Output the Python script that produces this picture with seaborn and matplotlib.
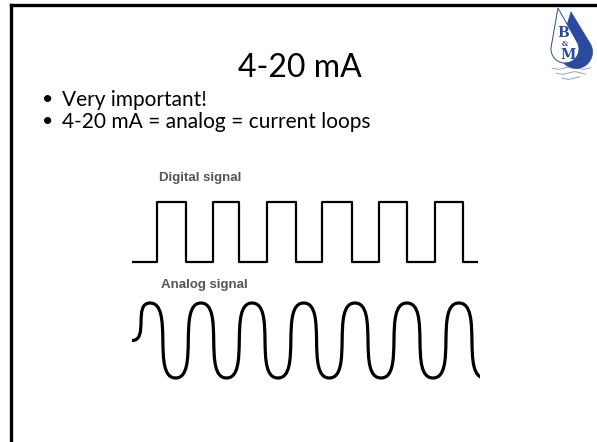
import numpy as np
import matplotlib
matplotlib.use("Agg")
import matplotlib.pyplot as plt
from matplotlib.path import Path
from matplotlib.patches import PathPatch, Polygon
import seaborn as sns

# slide text
title = "4-20 mA"
bullets = ["Very important!", "4-20 mA = analog = current loops"]
digital_label = "Digital signal"
analog_label = "Analog signal"

# digital signal: time of each edge and the level after it
digital_t = [0, 0.9, 1.95, 2.9, 3.85, 4.85, 5.9, 6.85, 7.9, 8.9, 9.9, 10.9, 11.9, 12.45]
digital_v = [0, 1, 0, 1, 0, 1, 0, 1, 0, 1, 0, 1, 0, 0]

# analog signal: start point, then peaks / troughs
analog_t = [0, 0.65, 1.57, 2.48, 3.4, 4.32, 5.25, 6.18, 7.1, 8.02, 8.96, 9.89, 10.83, 11.76, 12.7]
analog_v = [0, 1, -1, 1, -1, 1, -1, 1, -1, 1, -1, 1, -1, 1, -1]

W, H = 597, 442
BLUE = "#2a4a9e"

sns.set_theme(style="white")
plt.rcParams["font.family"] = ["Lato", "DejaVu Sans"]

fig = plt.figure(figsize=(W / 100, H / 100), dpi=100)


def px_rect(x0, y0, x1, y1):
    return [x0 / W, 1 - y1 / H, (x1 - x0) / W, (y1 - y0) / H]


bg = fig.add_axes([0, 0, 1, 1])
bg.set_xlim(0, W)
bg.set_ylim(H, 0)
bg.axis("off")

# slide frame
bg.plot([11, W], [5, 5], color="black", lw=2.4, solid_capstyle="projecting")
bg.plot([11, 11], [5, H], color="black", lw=2.4, solid_capstyle="projecting")

bg.text(300, 68, title, ha="center", va="center", fontsize=23, color="black")
for i, b in enumerate(bullets):
    y = 100 + i * 22
    bg.text(48, y, "\u2022", ha="center", va="center", fontsize=14, color="black")
    bg.text(62, y, b, ha="left", va="center", fontsize=15, color="black")


# logo
def drop(tip, center, r, **kw):
    tx, ty = tip
    cx, cy = center
    d = np.hypot(tx - cx, ty - cy)
    ang = np.arctan2(ty - cy, tx - cx)
    beta = np.arccos(r / d)
    th = np.linspace(ang + beta, ang + 2 * np.pi - beta, 80)
    pts = [(tx, ty)] + [(cx + r * np.cos(t), cy + r * np.sin(t)) for t in th]
    return Polygon(pts, closed=True, **kw)


bg.add_patch(drop((571, 12), (576, 52), 16.5, fc=BLUE, ec=BLUE, lw=0.5))
bg.add_patch(drop((558, 8), (565, 49), 14, fc="white", ec=BLUE, lw=0.7))
bg.text(563, 33, "B", ha="center", va="center", fontsize=10, fontweight="bold",
        family="DejaVu Serif", color=BLUE)
bg.text(565, 44, "&", ha="center", va="center", fontsize=5, fontweight="bold",
        family="DejaVu Serif", color=BLUE)
bg.text(568, 55, "M", ha="center", va="center", fontsize=10, fontweight="bold",
        family="DejaVu Serif", color=BLUE)
for yy, x0, x1 in [(68, 552, 591), (73, 556, 586), (78, 562, 580)]:
    xs = np.linspace(x0, x1, 30)
    bg.plot(xs, yy + 1.2 * np.sin((xs - x0) / 4), color=BLUE, lw=0.5, alpha=0.7)

# digital signal
ax_d = fig.add_axes(px_rect(132, 193, 478, 271))
sns.lineplot(x=digital_t, y=digital_v, drawstyle="steps-post", color="black",
             lw=1.6, ax=ax_d, estimator=None, sort=False)
ax_d.set_xlim(0, 12.45)
ax_d.set_ylim(-0.15, 1.15)
ax_d.axis("off")
bg.text(159, 178, digital_label, ha="left", va="center", fontsize=9.5,
        fontweight="bold", family="Liberation Sans", color="#555555")

# analog signal
ax_a = fig.add_axes(px_rect(132, 297.4, 480, 383.6))
k = 0.95
verts = [(analog_t[0], analog_v[0])]
codes = [Path.MOVETO]
for i in range(len(analog_t) - 1):
    x0, y0 = analog_t[i], analog_v[i]
    x1, y1 = analog_t[i + 1], analog_v[i + 1]
    dx = x1 - x0
    verts += [(x0 + k * dx, y0), (x1 - k * dx, y1), (x1, y1)]
    codes += [Path.CURVE4] * 3
ax_a.add_patch(PathPatch(Path(verts, codes), fc="none", ec="black", lw=2.3))
ax_a.set_xlim(0, 12.52)
ax_a.set_ylim(-1.15, 1.15)
ax_a.axis("off")
bg.text(161, 285, analog_label, ha="left", va="center", fontsize=9.5,
        fontweight="bold", family="Liberation Sans", color="#555555")

fig.savefig("out.png", dpi=100, facecolor="white")
